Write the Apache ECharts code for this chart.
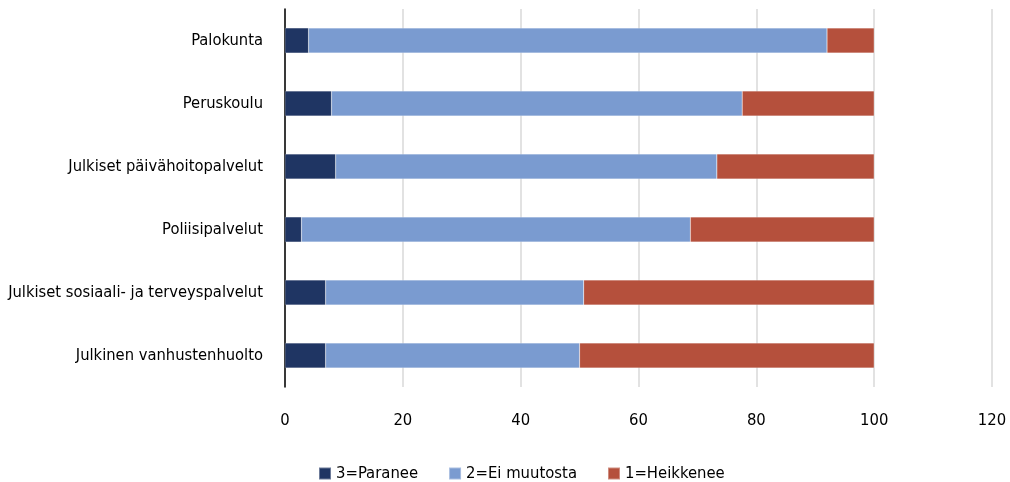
<!DOCTYPE html>
<html><head><meta charset="utf-8">
<script src="https://cdn.jsdelivr.net/npm/echarts@6/dist/echarts.min.js"></script>
<style>html,body{margin:0;padding:0;background:#fff}#c{width:1010px;height:482px}</style>
</head><body><div id="c"></div>
<script>
const categories = ["Palokunta","Peruskoulu","Julkiset päivähoitopalvelut","Poliisipalvelut","Julkiset sosiaali- ja terveyspalvelut","Julkinen vanhustenhuolto"];
const paranee = [4.0, 7.9, 8.6, 2.8, 6.9, 6.9];
const eiMuutosta = [88.0, 69.7, 64.7, 66.0, 43.8, 43.1];
const heikkenee = [8.0, 22.4, 26.7, 31.2, 49.3, 50.0];
const seriesNames = ["3=Paranee","2=Ei muutosta","1=Heikkenee"];
const colors = ["#1f3563","#7a9bd0","#b5503c"];
const FONT = "'DejaVu Sans Condensed', 'Liberation Sans', sans-serif";
const chart = echarts.init(document.getElementById('c'));
const mk = (name, data, color) => ({name, type:'bar', stack:'s', data, barWidth:'40%',
  itemStyle:{color, borderColor:'rgba(255,255,255,0.35)', borderWidth:0.5}});
chart.setOption({
  animation:false,
  textStyle:{fontFamily:FONT},
  grid:{left:285, right:18, top:9, bottom:95},
  legend:{left:313, top:460, itemWidth:12, itemHeight:12, itemGap:30,
    icon:'rect', textStyle:{fontFamily:FONT, fontSize:16.5, color:'#000'}, data:seriesNames},
  xAxis:{type:'value', min:0, max:120, interval:20,
    axisLine:{show:false}, axisTick:{show:false},
    splitLine:{lineStyle:{color:'#d9d9d9', width:1.5}},
    axisLabel:{fontFamily:FONT, fontSize:16.5, color:'#000', margin:25}},
  yAxis:{type:'category', data:categories, inverse:true,
    axisLine:{show:true, lineStyle:{color:'#000', width:1.5}}, axisTick:{show:false},
    axisLabel:{fontFamily:FONT, fontSize:16.4, color:'#000', margin:22}},
  series:[mk(seriesNames[0], paranee, colors[0]), mk(seriesNames[1], eiMuutosta, colors[1]), mk(seriesNames[2], heikkenee, colors[2])]
});
</script></body></html>
